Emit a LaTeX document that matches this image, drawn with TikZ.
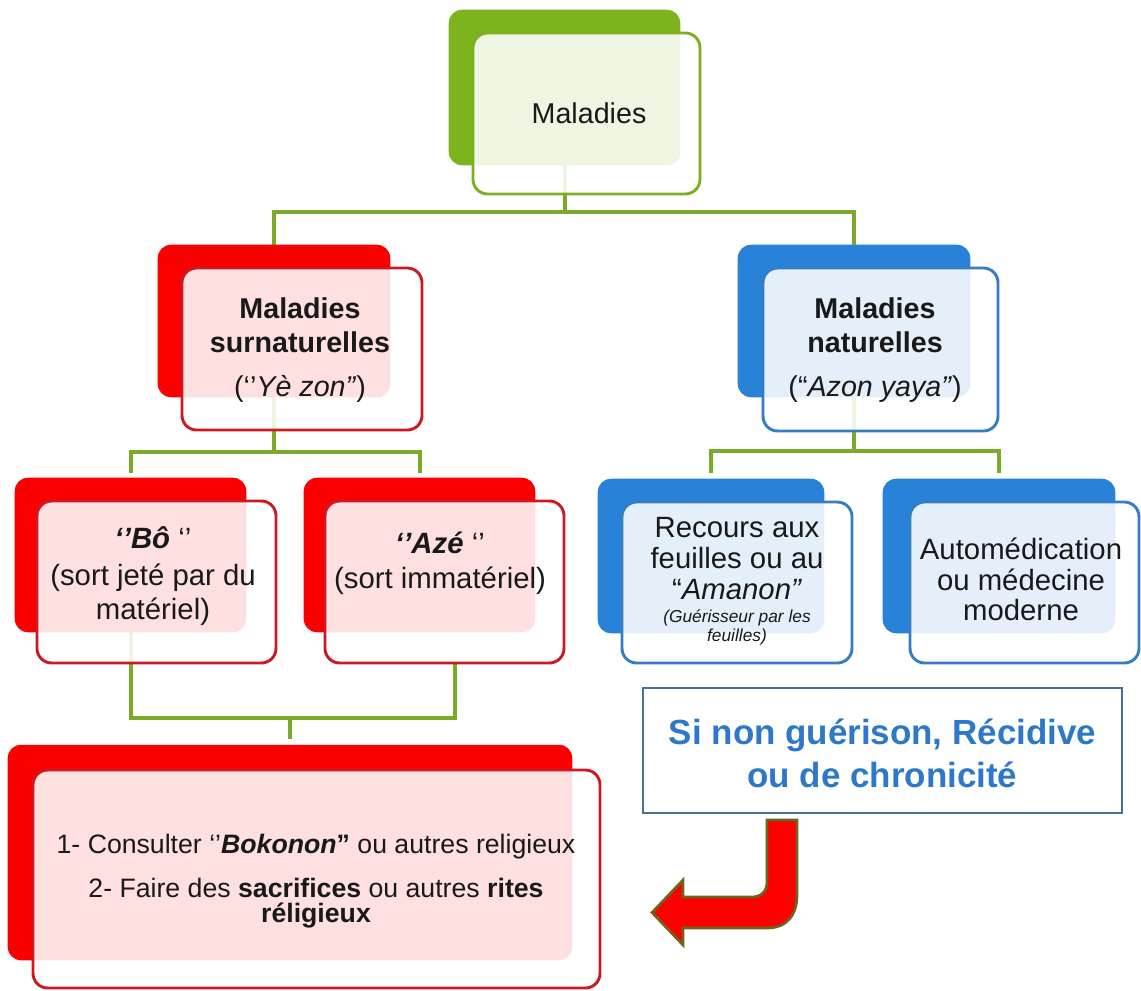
\documentclass[tikz,border=0pt]{standalone}
\usepackage{fontspec}
\setmainfont{Liberation Sans}
\definecolor{gback}{RGB}{125,180,30}
\definecolor{gfront}{RGB}{125,175,35}
\definecolor{lineG}{RGB}{122,170,40}
\definecolor{rback}{RGB}{250,0,0}
\definecolor{rfront}{RGB}{205,25,35}
\definecolor{bback}{RGB}{40,130,215}
\definecolor{bfront}{RGB}{55,125,195}
\definecolor{ink}{RGB}{25,25,25}
\definecolor{siblue}{RGB}{45,120,200}
\definecolor{siframe}{RGB}{65,113,156}
\definecolor{arrowedge}{RGB}{110,100,30}
\begin{document}
\begin{tikzpicture}[x=0.75pt,y=-0.75pt,
  wh/.style 2 args={minimum width=#1*0.75pt,minimum height=#2*0.75pt},
  back/.style={rectangle,rounded corners=10pt,inner sep=0pt,draw=none},
  front/.style={rectangle,rounded corners=11pt,inner sep=0pt,line width=2.2pt,fill=white,fill opacity=0.88},
  conn/.style={draw=lineG,line width=3pt},
  tA/.style={anchor=base,inner sep=0pt,text=ink,font=\fontsize{21.5}{25}\selectfont},
  tAb/.style={anchor=base,inner sep=0pt,text=ink,font=\fontsize{21.5}{25}\selectfont\bfseries},
  tB/.style={anchor=base,inner sep=0pt,text=ink,font=\fontsize{22}{26}\selectfont},
  tS/.style={anchor=base,inner sep=0pt,text=ink,font=\fontsize{13}{15}\selectfont\itshape},
  tC/.style={anchor=base,inner sep=0pt,text=ink,font=\fontsize{20}{24}\selectfont},
  tD/.style={anchor=base,inner sep=0pt,text=siblue,font=\fontsize{26.2}{30}\selectfont\bfseries}
]
\useasboundingbox (0,0) rectangle (1141,990);

% ---- back boxes: place them (filled later, above the connectors) ----
\path
  (564.5,87.5) node[back,wh={231}{155}] (topback) {}
  (274,321)    node[back,wh={232}{152}] (surback) {}
  (854,321)    node[back,wh={232}{152}] (natback) {}
  (130.5,555)  node[back,wh={231}{154}] (boback) {}
  (419.5,555)  node[back,wh={231}{154}] (azeback) {}
  (711,556)    node[back,wh={226}{154}] (lunback) {}
  (999,556)    node[back,wh={232}{154}] (ldeuxback) {}
  (290,852.5)  node[back,wh={564}{215}] (botback) {};
\coordinate (bj) at (290,718);
\coordinate (azeout) at ([xshift=26.6pt,yshift=-23.25pt]azeback.south);

% ---- connectors ----
\draw[conn] (topback.south) -- ++(0,47) -| (surback.north);
\draw[conn] (topback.south) -- ++(0,47) -| (natback.north);
\draw[conn,shorten >=3.75pt] (surback.south) -- ++(0,55) -| (boback.north);
\draw[conn,shorten >=3.75pt] (surback.south) -- ++(0,55) -| (azeback.north);
\draw[conn,shorten >=4.5pt] (natback.south) -- ++(0,54) -| (lunback.north);
\draw[conn,shorten >=4.5pt] (natback.south) -- ++(0,54) -| (ldeuxback.north);
\draw[conn] (boback.south) |- (bj);
\draw[conn] (azeout) |- (bj);
\draw[conn,shorten >=4.5pt] (bj) -- (botback.north);

% ---- filled back boxes ----
\fill[gback,rounded corners=10pt] (topback.south west) rectangle (topback.north east);
\fill[rback,rounded corners=10pt] (surback.south west) rectangle (surback.north east);
\fill[bback,rounded corners=10pt] (natback.south west) rectangle (natback.north east);
\fill[rback,rounded corners=10pt] (boback.south west) rectangle (boback.north east);
\fill[rback,rounded corners=10pt] (azeback.south west) rectangle (azeback.north east);
\fill[bback,rounded corners=10pt] (lunback.south west) rectangle (lunback.north east);
\fill[bback,rounded corners=10pt] (ldeuxback.south west) rectangle (ldeuxback.north east);
\fill[rback,rounded corners=10pt] (botback.south west) rectangle (botback.north east);

% ---- front boxes ----
\node[front,wh={227}{161},draw=gfront] (topfront) at (586.5,113.5) {};
\node[front,wh={240}{162},draw=rfront] (surfront) at (302,349) {};
\node[front,wh={235}{163},draw=bfront] (natfront) at (880.5,349.5) {};
\node[front,wh={239}{162},draw=rfront] (bofront) at (156.5,582) {};
\node[front,wh={239}{162},draw=rfront] (azefront) at (444.5,582) {};
\node[front,wh={230}{161},draw=bfront] (lunfront) at (737,582.5) {};
\node[front,wh={229}{161},draw=bfront] (ldeuxfront) at (1024.5,582.5) {};
\node[front,wh={567}{218},draw=rfront] (botfront) at (316.5,879) {};

% ---- texts ----
\node[tA] (t-top) at (589,123) {Maladies};

\node[tAb] (t-sur1) at (300,318) {Maladies};
\node[tAb] (t-sur2) at (300,352) {surnaturelles};
\node[tA]  (t-sur3) at (300,396) {(‘’\textit{Yè zon”})};

\node[tAb] (t-nat1) at (875,318) {Maladies};
\node[tAb] (t-nat2) at (875,352) {naturelles};
\node[tA]  (t-nat3) at (875,396) {(“\textit{Azon yaya”})};

\node[tB] (t-bo1) at (153,548) {\textbf{\textit{‘’Bô}} ‘’};
\node[tB] (t-bo2) at (153,585) {(sort jeté par du};
\node[tB] (t-bo3) at (153,619) {matériel)};

\node[tB] (t-aze1) at (440,553) {\textbf{\textit{‘’Azé}} ‘’};
\node[tB] (t-aze2) at (440,588) {(sort immatériel)};

\node[tB] (t-l1a) at (737,537) {Recours aux};
\node[tB] (t-l1b) at (737,568) {feuilles ou au};
\node[tB] (t-l1c) at (737,599) {“\textit{Amanon”}};
\node[tS] (t-l1d) at (737,622) {(Guérisseur par les};
\node[tS] (t-l1e) at (737,641) {feuilles)};

\node[tB] (t-l2a) at (1021,559) {Automédication};
\node[tB] (t-l2b) at (1021,590) {ou médecine};
\node[tB] (t-l2c) at (1021,620) {moderne};

\node[tC] (t-bot1) at (316,853) {1- Consulter ‘’\textbf{\textit{Bokonon}}\textbf{”} ou autres religieux};
\node[tC] (t-bot2) at (316,897) {2- Faire des \textbf{sacrifices} ou autres \textbf{rites}};
\node[tC] (t-bot3) at (316,922) {\textbf{réligieux}};

% ---- "Si non guérison" box ----
\node[draw=siframe,line width=1.1pt,fill=white,rectangle,inner sep=0pt,wh={479}{125}] (sibox) at (882.5,750.5) {};
\node[tD] (t-si1) at (882.5,744) {Si non guérison, Récidive};
\node[tD] (t-si2) at (882.5,787) {ou de chronicité};

% ---- U-turn arrow ----
\draw[fill=red,draw=arrowedge,line width=2pt,line join=miter]
  (767,820) -- (797,820) -- (797,895)
  .. controls (797,915) and (787,928) .. (767,928)
  -- (683,928) -- (683,945) -- (652,912.5) -- (683,880) -- (683,897) -- (752,897)
  .. controls (761,897) and (767,891) .. (767,882) -- cycle;
\end{tikzpicture}
\end{document}
